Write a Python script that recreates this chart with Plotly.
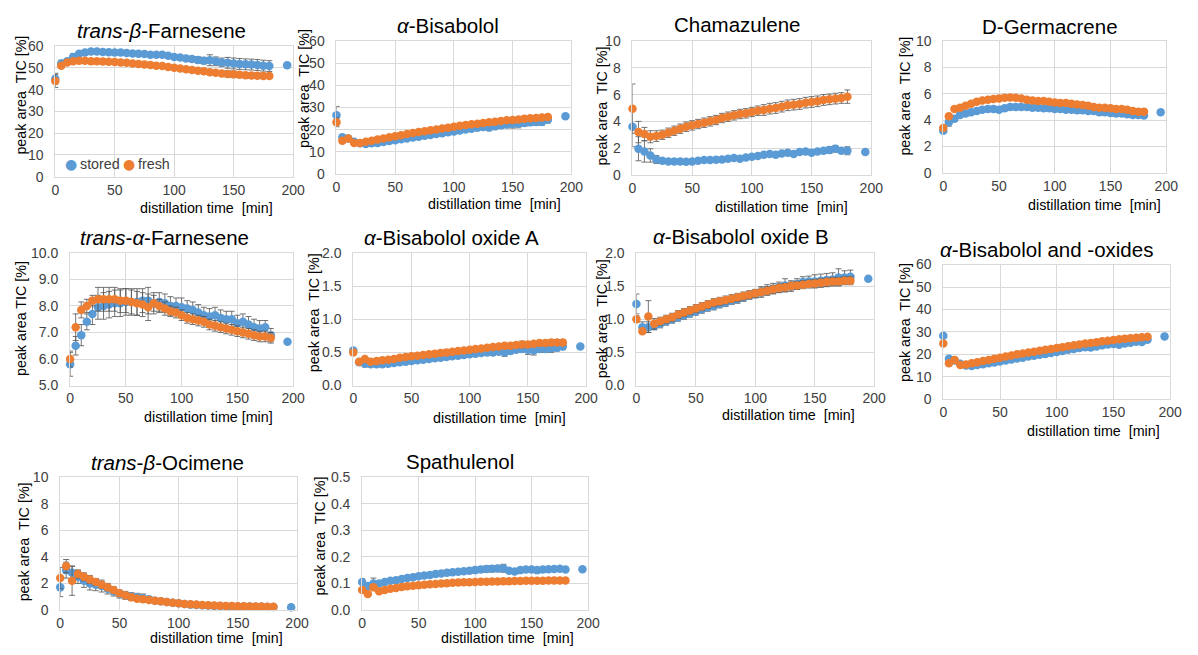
import plotly.graph_objects as go

W, H = 1198, 655
BLUE = "#5B9BD5"
ORANGE = "#ED7D31"
ERRC = "#505050"
GRID = "#d9d9d9"
FONT = "Liberation Sans, Arial, sans-serif"

# ---------------- data ----------------
time_fresh = [0, 5, 10, 15, 20, 25, 30, 35, 40, 45,
              50, 55, 60, 65, 70, 75, 80, 85, 90, 95,
              100, 105, 110, 115, 120, 125, 130, 135, 140, 145,
              150, 155, 160, 165, 170, 175, 180]
time_stored = time_fresh + [195]

# trans-beta-Farnesene
tbf_stored = [45, 52, 53, 55, 56.5, 57, 57.5, 57.5, 57.3, 57.2,
              57, 57, 56.8, 56.6, 56.5, 56.3, 56, 56, 56, 55.5,
              55, 54.7, 54.3, 54, 53.6, 53.3, 53.5, 53, 52.5, 52.3,
              52, 51.8, 51.6, 51.5, 51.3, 51, 50.8, 51.2]
tbf_stored_err = [2.5, 1.5, 1.0, 1.5, 1.0, 0.8, 0.8, 0.8, 0.8, 0.8,
                  0.8, 0.8, 0.8, 0.8, 0.8, 0.8, 0.8, 0.8, 1.0, 1.0,
                  1.0, 1.0, 1.2, 1.2, 1.5, 1.5, 2.5, 2.0, 2.0, 2.5,
                  2.5, 2.5, 2.5, 2.5, 2.5, 2.5, 2.5, 0]
tbf_fresh = [44, 51, 52.5, 53, 53.3, 53.2, 53, 53, 52.9, 52.8,
             52.7, 52.5, 52.3, 52, 51.8, 51.5, 51.3, 51, 50.8, 50.4,
             50, 49.7, 49.3, 49, 48.7, 48.4, 48, 47.7, 47.4, 47.2,
             47, 46.8, 46.6, 46.5, 46.4, 46.3, 46.3]
tbf_fresh_err = [3.0, 1.0, 0.8, 0.8, 0.6, 0.6, 0.6, 0.6, 0.6, 0.6,
                 0.6, 0.6, 0.6, 0.6, 0.6, 0.6, 0.6, 0.6, 0.6, 0.6,
                 0.6, 0.6, 0.8, 0.8, 0.8, 0.8, 1.0, 1.0, 1.0, 1.5,
                 1.5, 1.2, 1.2, 1.2, 1.2, 1.2, 1.2]

# alpha-Bisabolol
bis_stored = [26.5, 16.5, 16, 14.5, 13.8, 13.5, 13.8, 14, 14.4, 14.8,
              15.2, 15.6, 16, 16.4, 16.8, 17.2, 17.6, 18, 18.4, 18.8,
              19.2, 19.6, 20, 20.4, 20.8, 21.2, 21, 21.5, 22, 22.3,
              22.5, 22.6, 23, 23.3, 23.5, 23.5, 24.5, 26]
bis_stored_err = [4.0, 1.0, 1.0, 1.0, 0.8, 0.8, 0.8, 0.8, 0.8, 0.8,
                  0.8, 0.8, 0.8, 0.8, 0.8, 0.8, 0.8, 0.8, 0.8, 0.8,
                  0.8, 1.0, 1.0, 1.0, 1.2, 1.2, 1.5, 1.5, 1.5, 1.5,
                  1.8, 1.8, 1.5, 1.5, 1.5, 1.5, 1.5, 0]
bis_fresh = [23.3, 15, 16, 14, 14, 14.5, 15, 15.5, 16, 16.5,
             17, 17.5, 18, 18.5, 18.9, 19.3, 19.7, 20.1, 20.5, 20.9,
             21.3, 21.7, 22.1, 22.4, 22.7, 23, 23.3, 23.6, 23.9, 24.2,
             24.4, 24.6, 24.9, 25.1, 25.3, 25.5, 25.7]
bis_fresh_err = [2.0, 1.0, 1.0, 0.8, 0.5, 0.5, 0.5, 0.5, 0.5, 0.5,
                 0.5, 0.5, 0.5, 0.5, 0.5, 0.5, 0.5, 0.5, 0.5, 0.5,
                 0.5, 0.5, 0.5, 0.5, 0.5, 0.5, 0.6, 0.6, 0.6, 0.6,
                 0.6, 0.6, 0.6, 0.6, 0.6, 0.6, 0.6]

# Chamazulene
cha_stored = [3.6, 1.95, 1.75, 1.45, 1.15, 1.05, 1.0, 1.0, 1.0, 0.98,
              1.0, 1.05, 1.1, 1.1, 1.12, 1.15, 1.2, 1.25, 1.2, 1.3,
              1.35, 1.4, 1.5, 1.55, 1.5, 1.6, 1.65, 1.55, 1.7, 1.75,
              1.65, 1.75, 1.8, 1.85, 1.95, 1.8, 1.8, 1.7]
cha_stored_err = [1.5, 0.9, 0.8, 0.5, 0.3, 0.1, 0.1, 0.1, 0.1, 0.1,
                  0.1, 0.1, 0.1, 0.1, 0.1, 0.1, 0.1, 0.1, 0.1, 0.1,
                  0.1, 0.1, 0.1, 0.1, 0.1, 0.1, 0.1, 0.1, 0.1, 0.1,
                  0.1, 0.1, 0.1, 0.25, 0.25, 0.2, 0.3, 0]
cha_fresh = [4.95, 3.2, 3.05, 2.85, 2.9, 3.0, 3.15, 3.3, 3.45, 3.6,
             3.7, 3.8, 3.9, 4.0, 4.1, 4.25, 4.35, 4.45, 4.55, 4.6,
             4.7, 4.8, 4.85, 4.95, 5.0, 5.1, 5.2, 5.25, 5.3, 5.4,
             5.45, 5.5, 5.6, 5.65, 5.7, 5.75, 5.85]
cha_fresh_err = [1.85, 0.8, 0.5, 0.45, 0.4, 0.35, 0.35, 0.35, 0.35, 0.35,
                 0.35, 0.35, 0.35, 0.35, 0.35, 0.35, 0.35, 0.35, 0.35, 0.35,
                 0.35, 0.35, 0.4, 0.4, 0.4, 0.4, 0.4, 0.4, 0.4, 0.4,
                 0.4, 0.4, 0.4, 0.4, 0.4, 0.4, 0.5]

# D-Germacrene
dgm_stored = [3.2, 3.85, 4.1, 4.4, 4.5, 4.6, 4.7, 4.8, 4.85, 4.85,
              4.8, 4.9, 5.0, 5.0, 5.0, 5.0, 4.95, 4.95, 4.9, 4.9,
              4.85, 4.85, 4.8, 4.8, 4.75, 4.75, 4.7, 4.7, 4.6, 4.6,
              4.55, 4.5, 4.5, 4.45, 4.4, 4.4, 4.35, 4.6]
dgm_stored_err = [0.2, 0.3, 0.2, 0.2, 0.2, 0.2, 0.2, 0.2, 0.2, 0.2,
                  0.2, 0.2, 0.2, 0.2, 0.2, 0.2, 0.2, 0.2, 0.2, 0.2,
                  0.2, 0.2, 0.2, 0.2, 0.2, 0.2, 0.2, 0.2, 0.2, 0.2,
                  0.2, 0.2, 0.2, 0.2, 0.2, 0.2, 0.2, 0]
dgm_fresh = [3.4, 4.3, 4.85, 4.95, 5.1, 5.25, 5.4, 5.5, 5.55, 5.6,
             5.65, 5.7, 5.72, 5.7, 5.65, 5.55, 5.5, 5.45, 5.45, 5.4,
             5.35, 5.3, 5.3, 5.25, 5.2, 5.15, 5.1, 5.0, 4.95, 4.95,
             4.9, 4.85, 4.85, 4.8, 4.7, 4.65, 4.65]
dgm_fresh_err = [0.15, 0.2, 0.15, 0.15, 0.15, 0.15, 0.15, 0.15, 0.15, 0.15,
                 0.15, 0.15, 0.15, 0.15, 0.15, 0.15, 0.15, 0.15, 0.15, 0.15,
                 0.15, 0.15, 0.15, 0.15, 0.15, 0.15, 0.15, 0.15, 0.15, 0.15,
                 0.15, 0.15, 0.15, 0.15, 0.15, 0.15, 0.15]

# trans-alpha-Farnesene
taf_stored = [5.8, 6.5, 6.9, 7.4, 7.7, 7.95, 8.0, 8.05, 8.1, 8.1,
              8.15, 8.15, 8.15, 8.2, 8.2, 8.1, 8.15, 8.1, 8.0, 8.0,
              7.95, 7.9, 7.85, 7.75, 7.65, 7.6, 7.65, 7.55, 7.5, 7.5,
              7.35, 7.4, 7.3, 7.2, 7.15, 7.2, 6.9, 6.65]
taf_stored_err = [0.45, 0.35, 0.4, 0.3, 0.4, 0.45, 0.5, 0.5, 0.5, 0.5,
                  0.5, 0.5, 0.5, 0.45, 0.5, 0.4, 0.35, 0.35, 0.35, 0.3,
                  0.35, 0.3, 0.3, 0.3, 0.3, 0.3, 0.3, 0.3, 0.3, 0.3,
                  0.3, 0.3, 0.3, 0.3, 0.3, 0.25, 0.25, 0]
taf_fresh = [6.0, 7.2, 7.85, 8.0, 8.2, 8.25, 8.25, 8.25, 8.25, 8.2,
             8.2, 8.15, 8.1, 8.05, 7.95, 8.1, 8.0, 7.9, 7.8, 7.75,
             7.65, 7.55, 7.5, 7.45, 7.4, 7.3, 7.25, 7.2, 7.15, 7.1,
             7.05, 7.0, 6.95, 6.9, 6.85, 6.85, 6.8]
taf_fresh_err = [0.3, 0.5, 0.3, 0.25, 0.2, 0.45, 0.45, 0.45, 0.45, 0.45,
                 0.45, 0.45, 0.45, 0.45, 0.5, 0.3, 0.25, 0.25, 0.2, 0.2,
                 0.2, 0.2, 0.2, 0.2, 0.2, 0.2, 0.2, 0.2, 0.2, 0.2,
                 0.2, 0.2, 0.2, 0.2, 0.2, 0.2, 0.2]

# alpha-Bisabolol oxide A
boa_stored = [0.53, 0.35, 0.33, 0.32, 0.32, 0.32, 0.33, 0.34, 0.35, 0.36,
              0.37, 0.38, 0.39, 0.4, 0.41, 0.42, 0.43, 0.44, 0.45, 0.46,
              0.47, 0.48, 0.49, 0.5, 0.5, 0.51, 0.5, 0.52, 0.54, 0.55,
              0.54, 0.53, 0.55, 0.55, 0.56, 0.57, 0.59, 0.59]
boa_stored_err = [0.03, 0.03, 0.05, 0.03, 0.03, 0.03, 0.03, 0.03, 0.03, 0.03,
                  0.03, 0.03, 0.03, 0.03, 0.03, 0.03, 0.03, 0.03, 0.03, 0.03,
                  0.03, 0.03, 0.03, 0.03, 0.04, 0.04, 0.06, 0.04, 0.04, 0.04,
                  0.07, 0.07, 0.05, 0.05, 0.06, 0.05, 0.05, 0]
boa_fresh = [0.5, 0.36, 0.4, 0.36, 0.37, 0.38, 0.39, 0.4, 0.42, 0.43,
             0.44, 0.45, 0.46, 0.47, 0.48, 0.49, 0.5, 0.51, 0.52, 0.53,
             0.54, 0.55, 0.56, 0.57, 0.58, 0.59, 0.6, 0.6, 0.61, 0.62,
             0.62, 0.63, 0.64, 0.64, 0.65, 0.65, 0.65]
boa_fresh_err = [0.03, 0.02, 0.03, 0.02, 0.02, 0.02, 0.02, 0.02, 0.02, 0.02,
                 0.02, 0.02, 0.02, 0.02, 0.02, 0.02, 0.02, 0.02, 0.02, 0.02,
                 0.02, 0.02, 0.02, 0.02, 0.02, 0.02, 0.02, 0.03, 0.03, 0.05,
                 0.03, 0.03, 0.03, 0.04, 0.04, 0.04, 0.04]

# alpha-Bisabolol oxide B
bob_stored = [1.23, 0.88, 0.88, 0.9, 0.93, 0.97, 1.0, 1.03, 1.06, 1.09,
              1.12, 1.15, 1.18, 1.2, 1.23, 1.25, 1.28, 1.3, 1.33, 1.36,
              1.38, 1.41, 1.44, 1.46, 1.48, 1.51, 1.5, 1.53, 1.56, 1.57,
              1.57, 1.58, 1.59, 1.6, 1.63, 1.63, 1.64, 1.61]
bob_stored_err = [0.15, 0.08, 0.08, 0.06, 0.06, 0.06, 0.06, 0.06, 0.06, 0.06,
                  0.06, 0.06, 0.06, 0.06, 0.06, 0.06, 0.06, 0.06, 0.06, 0.06,
                  0.06, 0.08, 0.08, 0.08, 0.08, 0.1, 0.08, 0.08, 0.08, 0.08,
                  0.1, 0.1, 0.1, 0.1, 0.13, 0.1, 0.1, 0]
bob_fresh = [1.0, 0.82, 1.04, 0.93, 0.97, 1.0, 1.03, 1.07, 1.1, 1.13,
             1.16, 1.19, 1.22, 1.25, 1.27, 1.29, 1.31, 1.33, 1.35, 1.37,
             1.39, 1.41, 1.43, 1.45, 1.47, 1.48, 1.5, 1.51, 1.52, 1.53,
             1.54, 1.55, 1.56, 1.57, 1.57, 1.58, 1.58]
bob_fresh_err = [0.05, 0.03, 0.24, 0.08, 0.06, 0.06, 0.06, 0.06, 0.06, 0.06,
                 0.06, 0.06, 0.06, 0.06, 0.06, 0.06, 0.06, 0.06, 0.06, 0.06,
                 0.06, 0.06, 0.06, 0.06, 0.06, 0.06, 0.06, 0.06, 0.06, 0.06,
                 0.06, 0.06, 0.06, 0.06, 0.06, 0.06, 0.06]

# alpha-Bisabolol and -oxides
bao_stored = [28.3, 18, 17.3, 15.8, 15, 14.8, 15.2, 15.6, 16, 16.4,
              16.8, 17.3, 17.7, 18.1, 18.5, 19, 19.4, 19.8, 20.2, 20.6,
              21, 21.5, 22, 22.4, 22.8, 23.2, 23, 23.5, 24, 24.4,
              24.6, 24.3, 24.8, 25.2, 25.6, 25.5, 26.5, 28]
bao_stored_err = [1.0, 1.0, 1.0, 0.8, 0.8, 0.8, 0.8, 0.8, 0.8, 0.8,
                  0.8, 0.8, 0.8, 0.8, 0.8, 0.8, 0.8, 0.8, 0.8, 0.8,
                  0.8, 0.8, 0.8, 0.8, 0.8, 0.8, 0.8, 0.8, 0.8, 0.8,
                  0.8, 0.8, 0.8, 0.8, 0.8, 0.8, 0.8, 0]
bao_fresh = [24.8, 16, 17.5, 15.3, 15.5, 16, 16.5, 17, 17.5, 18,
             18.5, 19, 19.5, 20, 20.4, 20.8, 21.2, 21.6, 22, 22.4,
             22.8, 23.2, 23.6, 24, 24.4, 24.8, 25.1, 25.4, 25.8, 26.1,
             26.4, 26.7, 27, 27.2, 27.4, 27.6, 27.8]
bao_fresh_err = [0.8, 0.6, 0.6, 0.5, 0.5, 0.5, 0.5, 0.5, 0.5, 0.5,
                 0.5, 0.5, 0.5, 0.5, 0.5, 0.5, 0.5, 0.5, 0.5, 0.5,
                 0.5, 0.5, 0.5, 0.5, 0.5, 0.5, 0.5, 0.5, 0.5, 0.5,
                 0.5, 0.5, 0.5, 0.5, 0.5, 0.5, 0.5]

# trans-beta-Ocimene
tbo_stored = [1.7, 3.0, 2.8, 2.5, 2.2, 2.0, 1.9, 1.8, 1.6, 1.4,
              1.2, 1.1, 1.0, 0.95, 0.9, 0.8, 0.7, 0.65, 0.6, 0.55,
              0.5, 0.45, 0.4, 0.38, 0.35, 0.33, 0.3, 0.3, 0.28, 0.27,
              0.26, 0.25, 0.25, 0.24, 0.24, 0.23, 0.23, 0.2]
tbo_stored_err = [0.7, 0.6, 0.5, 0.5, 0.5, 0.5, 0.45, 0.45, 0.4, 0.35,
                  0.3, 0.3, 0.3, 0.3, 0.3, 0.15, 0.1, 0.1, 0.1, 0.08,
                  0.08, 0.06, 0.06, 0.05, 0.05, 0.05, 0.05, 0.05, 0.05, 0.05,
                  0.05, 0.05, 0.05, 0.05, 0.05, 0.05, 0.05, 0]
tbo_fresh = [2.4, 3.3, 2.2, 2.7, 2.5, 2.3, 2.1, 1.9, 1.7, 1.5,
             1.25, 1.1, 0.95, 0.85, 0.8, 0.75, 0.7, 0.65, 0.6, 0.55,
             0.5, 0.45, 0.42, 0.4, 0.37, 0.35, 0.33, 0.31, 0.3, 0.29,
             0.28, 0.27, 0.26, 0.25, 0.25, 0.24, 0.24]
tbo_fresh_err = [0.8, 0.5, 1.1, 0.3, 0.3, 0.3, 0.25, 0.25, 0.2, 0.2,
                 0.15, 0.15, 0.1, 0.1, 0.1, 0.08, 0.06, 0.05, 0.05, 0.05,
                 0.04, 0.04, 0.04, 0.04, 0.03, 0.03, 0.03, 0.03, 0.03, 0.03,
                 0.03, 0.03, 0.03, 0.03, 0.03, 0.03, 0.03]

# Spathulenol
spa_stored = [0.105, 0.09, 0.1, 0.1, 0.105, 0.11, 0.112, 0.117, 0.12, 0.123,
              0.127, 0.13, 0.132, 0.135, 0.137, 0.14, 0.142, 0.144, 0.146, 0.148,
              0.15, 0.152, 0.154, 0.155, 0.156, 0.157, 0.148, 0.145, 0.15, 0.152,
              0.152, 0.15, 0.152, 0.153, 0.154, 0.155, 0.152, 0.153]
spa_stored_err = [0.012, 0.01, 0.02, 0.008, 0.008, 0.008, 0.008, 0.008, 0.008, 0.008,
                  0.008, 0.008, 0.008, 0.008, 0.008, 0.008, 0.008, 0.008, 0.008, 0.008,
                  0.01, 0.01, 0.012, 0.012, 0.012, 0.015, 0.005, 0.005, 0.005, 0.005,
                  0.005, 0.005, 0.005, 0.005, 0.006, 0.006, 0.005, 0]
spa_fresh = [0.075, 0.06, 0.085, 0.07, 0.075, 0.08, 0.083, 0.086, 0.089, 0.091,
             0.093, 0.095, 0.097, 0.098, 0.1, 0.101, 0.102, 0.103, 0.104, 0.104,
             0.105, 0.106, 0.106, 0.107, 0.107, 0.108, 0.108, 0.109, 0.109, 0.11,
             0.11, 0.11, 0.11, 0.111, 0.111, 0.111, 0.111]
spa_fresh_err = [0.005, 0.008, 0.005, 0.004, 0.004, 0.004, 0.004, 0.004, 0.004, 0.004,
                 0.004, 0.004, 0.004, 0.004, 0.004, 0.004, 0.004, 0.004, 0.004, 0.004,
                 0.004, 0.004, 0.004, 0.004, 0.004, 0.004, 0.004, 0.004, 0.004, 0.004,
                 0.004, 0.004, 0.004, 0.004, 0.004, 0.004, 0.004]

x_ticks = [0, 50, 100, 150, 200]
series_names = ["stored", "fresh"]

# ---------------- panel definitions (layout in pixels) ----------------
YT = "peak area\u00a0 TIC [%]"
XT = "distillation time\u00a0 [min]"
panels = [
    dict(title="<i>trans</i>-<i>β</i>-Farnesene", s=tbf_stored, se=tbf_stored_err, f=tbf_fresh, fe=tbf_fresh_err,
         yr=[0, 60], dt=10, fmt="d", box=(52, 293, 39, 173), tpos=(160, 23), ypos=(17, 89), xpos=(205, 205), yt=YT, xt=XT),
    dict(title="<i>α</i>-Bisabolol", s=bis_stored, se=bis_stored_err, f=bis_fresh, fe=bis_fresh_err,
         yr=[0, 60], dt=10, fmt="d", box=(337, 575, 34, 170), tpos=(450, 18), ypos=(304, 82), xpos=(497, 201), yt=YT, xt=XT),
    dict(title="Chamazulene", s=cha_stored, se=cha_stored_err, f=cha_fresh, fe=cha_fresh_err,
         yr=[0, 10], dt=2, fmt="d", box=(637, 879, 34, 171), tpos=(743, 17), ypos=(606, 100), xpos=(788, 204), yt=YT, xt=XT),
    dict(title="D-Germacrene", s=dgm_stored, se=dgm_stored_err, f=dgm_fresh, fe=dgm_fresh_err,
         yr=[0, 10], dt=2, fmt="d", box=(952, 1178, 34, 169), tpos=(1060, 19), ypos=(913, 90), xpos=(1105, 202), yt=YT, xt=XT),
    dict(title="<i>trans</i>-<i>α</i>-Farnesene", s=taf_stored, se=taf_stored_err, f=taf_fresh, fe=taf_fresh_err,
         yr=[5, 10], dt=1, fmt=".1f", box=(67, 293, 251, 387), tpos=(163, 235), ypos=(17, 318), xpos=(207, 419),
         yt="peak area TIC [%]", xt="distillation time [min]"),
    dict(title="<i>α</i>-Bisabolol oxide A", s=boa_stored, se=boa_stored_err, f=boa_fresh, fe=boa_fresh_err,
         yr=[0, 2], dt=0.5, fmt=".1f", box=(354, 590, 251, 387), tpos=(454, 235), ypos=(315, 312), xpos=(502, 420), yt=YT, xt=XT),
    dict(title="<i>α</i>-Bisabolol oxide B", s=bob_stored, se=bob_stored_err, f=bob_fresh, fe=bob_fresh_err,
         yr=[0, 2], dt=0.5, fmt=".1f", box=(641, 882, 251, 387), tpos=(747, 234), ypos=(606, 318), xpos=(795, 417), yt=YT, xt=XT),
    dict(title="<i>α</i>-Bisabolol and -oxides", s=bao_stored, se=bao_stored_err, f=bao_fresh, fe=bao_fresh_err,
         yr=[0, 60], dt=10, fmt="d", box=(952, 1182, 263, 401), tpos=(1057, 248), ypos=(913, 322), xpos=(1104, 434), yt=YT, xt=XT),
    dict(title="<i>trans</i>-<i>β</i>-Ocimene", s=tbo_stored, se=tbo_stored_err, f=tbo_fresh, fe=tbo_fresh_err,
         yr=[0, 10], dt=2, fmt="d", box=(57, 297, 481, 617), tpos=(166, 466), ypos=(20, 547), xpos=(215, 646), yt=YT, xt=XT),
    dict(title="Spathulenol", s=spa_stored, se=spa_stored_err, f=spa_fresh, fe=spa_fresh_err,
         yr=[0, 0.5], dt=0.1, fmt=".1f", box=(363, 592, 481, 617), tpos=(462, 465), ypos=(320, 541), xpos=(510, 646), yt=YT, xt=XT),
]

for p in panels:
    assert len(p["s"]) == len(time_stored) and len(p["se"]) == len(time_stored), p["title"]
    assert len(p["f"]) == len(time_fresh) and len(p["fe"]) == len(time_fresh), p["title"]

fig = go.Figure()
annotations = []
layout_axes = {}

for i, p in enumerate(panels, 1):
    xname = "x" if i == 1 else f"x{i}"
    yname = "y" if i == 1 else f"y{i}"
    x0, x1, y0, y1 = p["box"]
    for name, xs, ys, es, col in ((series_names[0], time_stored, p["s"], p["se"], BLUE),
                                  (series_names[1], time_fresh, p["f"], p["fe"], ORANGE)):
        fig.add_trace(go.Scatter(
            x=xs, y=ys, mode="markers", name=name, legendgroup=name, showlegend=False,
            marker=dict(size=8.5, color=col),
            error_y=dict(type="data", array=es, visible=True, color=ERRC, thickness=0.8, width=3),
            cliponaxis=False, xaxis=xname, yaxis=yname, hoverinfo="x+y+name"))
    common = dict(showgrid=True, gridcolor=GRID, gridwidth=1, showline=True, linecolor=GRID, linewidth=1,
                  mirror=True, zeroline=False, ticks="", tickfont=dict(size=14, color="#404040", family=FONT))
    layout_axes["xaxis" if i == 1 else f"xaxis{i}"] = dict(
        common, domain=[x0 / W, x1 / W], range=[0, 200], tickmode="array", tickvals=x_ticks,
        anchor=yname, ticklabelstandoff=0)
    layout_axes["yaxis" if i == 1 else f"yaxis{i}"] = dict(
        common, domain=[1 - y1 / H, 1 - y0 / H], range=p["yr"], dtick=p["dt"], tick0=p["yr"][0],
        tickformat=p["fmt"], anchor=xname, ticklabelstandoff=8)
    annotations.append(dict(text=p["title"], x=p["tpos"][0] / W, y=1 - p["tpos"][1] / H, xref="paper", yref="paper",
                            xanchor="center", yanchor="middle", showarrow=False,
                            font=dict(size=20.5, color="black", family=FONT)))
    annotations.append(dict(text=p["yt"], x=p["ypos"][0] / W, y=1 - p["ypos"][1] / H, xref="paper", yref="paper",
                            xanchor="center", yanchor="middle", textangle=-90, showarrow=False,
                            font=dict(size=14.3, color="black", family=FONT)))
    annotations.append(dict(text=p["xt"], x=p["xpos"][0] / W, y=1 - p["xpos"][1] / H, xref="paper", yref="paper",
                            xanchor="center", yanchor="middle", showarrow=False,
                            font=dict(size=14.3, color="black", family=FONT)))

# legend inside the first panel (marker glyph + label, Excel style spacing)
legend_items = [(series_names[0], BLUE, 68, 75), (series_names[1], ORANGE, 127, 134)]
for name, col, mx, tx in legend_items:
    annotations.append(dict(text="●", x=mx / W, y=1 - 160 / H, xref="paper", yref="paper",
                            xanchor="center", yanchor="middle", showarrow=False,
                            font=dict(size=14, color=col, family="DejaVu Sans")))
    annotations.append(dict(text=name, x=tx / W, y=1 - 160 / H, xref="paper", yref="paper",
                            xanchor="left", yanchor="middle", showarrow=False,
                            font=dict(size=14.3, color="#404040", family=FONT)))

fig.update_layout(
    width=W, height=H, margin=dict(l=0, r=0, t=0, b=0),
    paper_bgcolor="white", plot_bgcolor="white",
    font=dict(family=FONT, size=14, color="black"),
    showlegend=False,
    annotations=annotations,
    **layout_axes,
)

fig.write_html("out.html")
